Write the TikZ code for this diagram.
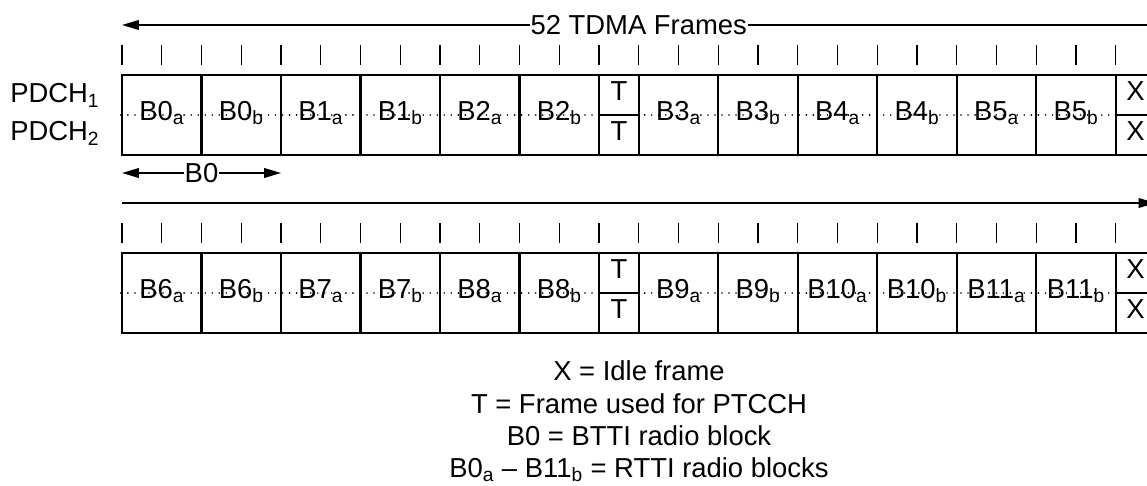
\documentclass[tikz,border=0pt]{standalone}
\usepackage{fontspec}
\setmainfont{Liberation Sans}
\usetikzlibrary{arrows.meta}

\tikzset{
  cell/.style={draw, line width=1.6pt, minimum width=1.9875cm, minimum height=2cm,
    inner sep=0pt, text height=0.72em, text depth=0pt},
  halfcell/.style={cell, minimum width=0.99375cm, minimum height=1cm},
  tick/.style={line width=1.05pt},
  dotline/.style={line width=1.3pt, line cap=round, dash pattern=on 0pt off 5pt},
  span/.style={line width=1.15pt, -{Triangle[length=0.42cm, width=0.24cm]}},
  spanlabel/.style={inner sep=0.5pt, fill=white}
}

\begin{document}
\begin{tikzpicture}[x=0.025cm, y=-0.025cm, font=\fontsize{19.5}{23}\selectfont]
  \useasboundingbox (0,0) rectangle (1147,486);
  \clip (0,0) rectangle (1147,486);
  \def\fw{39.75}
  \def\xo{122}

  % overall span
  \coordinate (allL) at (\xo, 25);
  \coordinate (allR) at (\xo+27*\fw, 25);
  \node[spanlabel] (frames) at (\xo+13*\fw, 25) {52 TDMA Frames};
  \draw[span] (frames.west) -- (allL);
  \draw[span] (frames.east) -- (allR);

  % channel names
  \node[anchor=base west, inner sep=0pt] (pdch1) at (10, 103) {PDCH\textsubscript{1}};
  \node[anchor=base west, inner sep=0pt] (pdch2) at (10, 141) {PDCH\textsubscript{2}};

  \foreach \r/\ty in {0/75, 1/253} {
    \foreach \i in {0,...,25} {
      \draw[tick] (\xo+\i*\fw, \ty-30) -- ++(0,20);
    }
    \foreach \k in {0,...,11} {
      \pgfmathtruncatemacro\blk{6*\r+int(\k/2)}
      \pgfmathsetmacro\cx{\xo+(2*\k+1)*\fw+(\k>5)*\fw}
      \node[cell] (b\r-\k) at (\cx, \ty+40)
        {B\blk\textsubscript{\ifodd\k b\else a\fi}};
    }
    \node[halfcell] (t\r-u) at (\xo+12.5*\fw, \ty+20) {T};
    \node[halfcell] (t\r-l) at (\xo+12.5*\fw, \ty+60) {T};
    \node[halfcell] (x\r-u) at (\xo+25.5*\fw, \ty+20) {X};
    \node[halfcell] (x\r-l) at (\xo+25.5*\fw, \ty+60) {X};
    \draw[dotline] (b\r-0.west) -- (b\r-5.east);
    \draw[dotline] (b\r-6.west) -- (b\r-11.east);
  }

  % one radio block
  \coordinate (blkL) at (\xo, 173);
  \coordinate (blkR) at (\xo+4*\fw, 173);
  \node[spanlabel] (bttilbl) at (\xo+2*\fw, 173) {B0};
  \draw[span] (bttilbl.west) -- (blkL);
  \draw[span] (bttilbl.east) -- (blkR);

  % continuation
  \coordinate (contL) at (\xo, 203);
  \coordinate (contR) at (\xo+26*\fw, 203);
  \draw[span] (contL) -- (contR);

  % legend
  \foreach \n/\yb/\txt in {1/380/{X = Idle frame},
                           2/413/{T = Frame used for PTCCH},
                           3/445/{B0 = BTTI radio block},
                           4/477/{B0\textsubscript{a} – B11\textsubscript{b} = RTTI radio blocks}} {
    \node[anchor=base, inner sep=0pt] (leg\n) at (639, \yb) {\txt};
  }
\end{tikzpicture}
\end{document}
